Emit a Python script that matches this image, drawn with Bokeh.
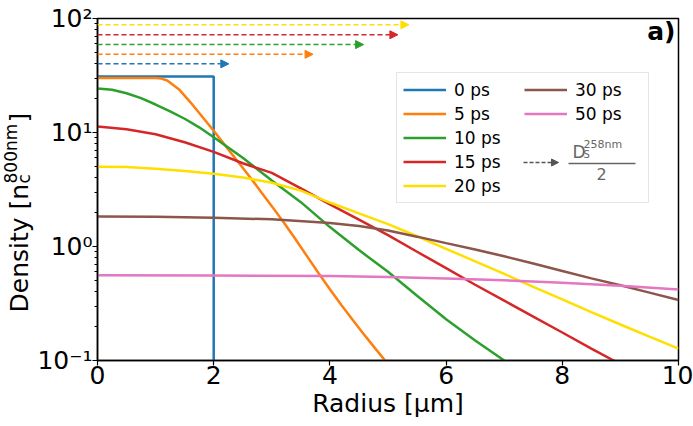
import math
from bokeh.plotting import figure
from bokeh.layouts import row
from bokeh.models import (FixedTicker, Label, Legend, LegendItem, Arrow,
                          NormalHead, Range1d)
from bokeh.embed import file_html
from bokeh.resources import INLINE

# ---------------- data ----------------
radius_0ps = [0.0, 2.0, 2.0]
density_0ps = [31.0, 31.0, 0.001]

radius_5ps = [0.0, 1.0, 1.1, 1.2, 1.4, 1.6, 1.8, 2.0, 2.2, 2.4, 2.6, 2.8,
              3.0, 3.2, 3.4, 3.6, 3.8, 4.0, 4.2, 4.4, 4.6, 4.8, 5.0]
density_5ps = [30.0, 30.0, 29.7, 28.6, 24.0, 18.4, 13.8, 10.35, 7.67, 5.69,
               4.22, 3.09, 2.26, 1.64, 1.175, 0.832, 0.589, 0.422, 0.305,
               0.224, 0.166, 0.124, 0.093]

radius_10ps = [0.0, 0.25, 0.5, 0.75, 1.0, 1.25, 1.5, 1.75, 2.0, 2.5, 3.0,
               3.5, 4.0, 4.5, 5.0, 5.5, 6.0, 6.5, 7.0, 7.1]
density_10ps = [24.3, 23.7, 22.1, 20.0, 17.6, 15.3, 13.2, 11.1, 9.1, 6.0,
                3.8, 2.45, 1.48, 0.93, 0.60, 0.37, 0.23, 0.15, 0.10, 0.093]

radius_15ps = [0.0, 0.5, 1.0, 1.5, 2.0, 2.5, 3.0, 3.5, 4.0, 4.5, 5.0, 5.5,
               6.0, 6.5, 7.0, 7.5, 8.0, 8.5, 8.9]
density_15ps = [11.3, 10.7, 9.66, 8.22, 6.76, 5.37, 4.42, 3.24, 2.34, 1.72,
                1.26, 0.90, 0.645, 0.462, 0.335, 0.243, 0.176, 0.127, 0.099]

radius_20ps = [0.0, 0.5, 1.0, 1.5, 2.0, 2.5, 3.0, 3.5, 4.0, 4.5, 5.0, 5.5,
               6.0, 6.5, 7.0, 7.5, 8.0, 8.5, 9.0, 9.5, 10.0]
density_20ps = [5.01, 4.98, 4.82, 4.59, 4.35, 4.03, 3.63, 3.09, 2.43, 1.95,
                1.57, 1.23, 0.955, 0.741, 0.575, 0.442, 0.343, 0.266, 0.207,
                0.162, 0.127]

radius_30ps = [0.0, 1.0, 2.0, 3.0, 4.0, 4.5, 5.0, 5.5, 6.0, 6.5, 7.0, 7.5,
               8.0, 8.5, 9.0, 9.5, 10.0]
density_30ps = [1.83, 1.82, 1.79, 1.73, 1.61, 1.51, 1.38, 1.22, 1.07, 0.94,
                0.82, 0.71, 0.61, 0.525, 0.457, 0.394, 0.339]

radius_50ps = [0.0, 2.0, 4.0, 5.0, 6.0, 7.0, 8.0, 9.0, 10.0]
density_50ps = [0.56, 0.558, 0.55, 0.54, 0.525, 0.505, 0.48, 0.452, 0.42]

series_labels = ["0 ps", "5 ps", "10 ps", "15 ps", "20 ps", "30 ps", "50 ps"]
series_colors = ["#1f77b4", "#ff7f0e", "#2ca02c", "#d62728", "#ffdf00",
                 "#8c564b", "#e377c2"]

# half spot size D_s/2 arrows (length in um, drawn at density level)
arrow_length = [2.26, 3.71, 4.58, 5.17, 5.36]
arrow_level = [40.0, 48.5, 59.0, 72.0, 88.0]
arrow_colors = ["#1f77b4", "#ff7f0e", "#2ca02c", "#d62728", "#ffdf00"]

x_ticks = [0, 2, 4, 6, 8, 10]
y_ticks = [0.1, 1, 10, 100]
y_tick_labels = ["10\u207b\u00b9", "10\u2070", "10\u00b9", "10\u00b2"]
y_minor = [m * 10.0 ** e for e in (-1, 0, 1) for m in range(2, 10)]

FONT = "DejaVu Sans"
LABEL_W = 34

# ---------------- y-label strip (separate, axis-less figure) ----------------
lab = figure(width=LABEL_W, height=426, x_range=Range1d(0, 1),
             y_range=Range1d(0, 1), x_axis_type=None, y_axis_type=None,
             output_backend="svg", toolbar_location=None,
             min_border_left=0, min_border_right=0, min_border_top=0,
             min_border_bottom=0)
lab.grid.visible = False
lab.outline_line_color = None

rot = math.pi / 2
ylabel_parts = [("Density [n", 18.9, 48, "25px"),
                ("800nm", 10.1, 177, "17px"),
                ("c", 23.6, 177, "17px"),
                ("]", 18.9, 238, "25px")]
for txt, sx, sy, fs in ylabel_parts:
    lab.add_layout(Label(x=sx, y=sy, x_units="screen", y_units="screen",
                         text=txt, angle=rot, text_font=FONT,
                         text_font_size=fs, text_color="black",
                         text_align="left", text_baseline="alphabetic"))

# ---------------- main figure ----------------
p = figure(width=693 - LABEL_W, height=426, x_range=Range1d(0, 10),
           y_range=Range1d(0.1, 100), y_axis_type="log",
           output_backend="svg", toolbar_location=None,
           min_border_left=97 - LABEL_W, min_border_right=15,
           min_border_top=18, min_border_bottom=66)
p.xgrid.visible = False
p.ygrid.visible = False
p.outline_line_color = "black"
p.outline_line_width = 1.5
p.outline_line_alpha = 1.0

p.xaxis.ticker = FixedTicker(ticks=x_ticks, minor_ticks=[])
p.yaxis.ticker = FixedTicker(ticks=y_ticks, minor_ticks=y_minor)
p.yaxis.major_label_overrides = {t: s for t, s in zip(y_ticks, y_tick_labels)}
for ax in (p.xaxis, p.yaxis):
    ax.axis_line_width = 1.5
    ax.axis_line_color = "black"
    ax.major_tick_in = 0
    ax.major_tick_out = 5
    ax.minor_tick_in = 0
    ax.minor_tick_out = 3
    ax.major_tick_line_width = 1.2
    ax.minor_tick_line_width = 1
    ax.major_label_text_font = FONT
    ax.major_label_text_font_size = "25px"
    ax.major_label_text_color = "black"
p.xaxis.major_label_standoff = 0
p.yaxis.major_label_standoff = 0

p.xaxis.axis_label = "Radius [\u00b5m]"
p.xaxis.axis_label_text_font = FONT
p.xaxis.axis_label_text_font_size = "25px"
p.xaxis.axis_label_text_font_style = "normal"
p.xaxis.axis_label_text_color = "black"
p.xaxis.axis_label_standoff = 2

# ---------------- curves ----------------
data = [(radius_0ps, density_0ps), (radius_5ps, density_5ps),
        (radius_10ps, density_10ps), (radius_15ps, density_15ps),
        (radius_20ps, density_20ps), (radius_30ps, density_30ps),
        (radius_50ps, density_50ps)]
renderers = []
for (xs, ys), c in zip(data, series_colors):
    renderers.append(p.line(xs, ys, line_color=c, line_width=2.5))

# ---------------- D_s/2 arrows ----------------
for L, lvl, c in zip(arrow_length, arrow_level, arrow_colors):
    p.add_layout(Arrow(x_start=0, y_start=lvl, x_end=L, y_end=lvl,
                       line_color=c, line_width=1.5, line_dash="5 3",
                       end=NormalHead(size=8, fill_color=c, line_color=c,
                                      line_width=1)))

# ---------------- legend ----------------
legend = Legend(items=[LegendItem(label=l, renderers=[r])
                       for l, r in zip(series_labels, renderers)],
                location=(299, 157), nrows=5, orientation="vertical",
                glyph_width=43, glyph_height=21, label_height=21,
                label_width=67, label_standoff=8, spacing=3, padding=6,
                margin=0, border_line_color="#cccccc", border_line_width=1,
                background_fill_alpha=0.0,
                label_text_font=FONT, label_text_font_size="17px",
                label_text_color="black")
p.add_layout(legend)

GREY = "#666666"
p.add_layout(Arrow(x_start=426, y_start=198, x_end=461, y_end=198,
                   start_units="screen", end_units="screen",
                   line_color="#555555", line_width=1.5, line_dash="4 2",
                   end=NormalHead(size=7, fill_color="#555555",
                                  line_color="#555555", line_width=1)))
p.add_layout(Label(x=475, y=209, x_units="screen", y_units="screen",
                   text="D", text_font=FONT, text_font_size="17px",
                   text_color=GREY, text_baseline="alphabetic"))
p.add_layout(Label(x=486, y=206, x_units="screen", y_units="screen",
                   text="S", text_font=FONT, text_font_size="10px",
                   text_color=GREY, text_baseline="alphabetic"))
p.add_layout(Label(x=486, y=216, x_units="screen", y_units="screen",
                   text="258nm", text_font=FONT, text_font_size="11px",
                   text_color=GREY, text_baseline="alphabetic"))
p.add_layout(Arrow(x_start=471, y_start=197, x_end=538, y_end=197,
                   start_units="screen", end_units="screen",
                   line_color=GREY, line_width=1.3, end=None))
p.add_layout(Label(x=504, y=187, x_units="screen", y_units="screen",
                   text="2", text_font=FONT, text_font_size="16px",
                   text_color=GREY, text_baseline="alphabetic",
                   text_align="center"))

# ---------------- panel tag ----------------
p.add_layout(Label(x=578, y=329, x_units="screen", y_units="screen",
                   text="a)", text_font=FONT, text_font_size="25px",
                   text_font_style="bold", text_color="black",
                   text_align="right", text_baseline="alphabetic"))

layout = row(lab, p, spacing=0)
open("out.html", "w").write(file_html(layout, INLINE))
